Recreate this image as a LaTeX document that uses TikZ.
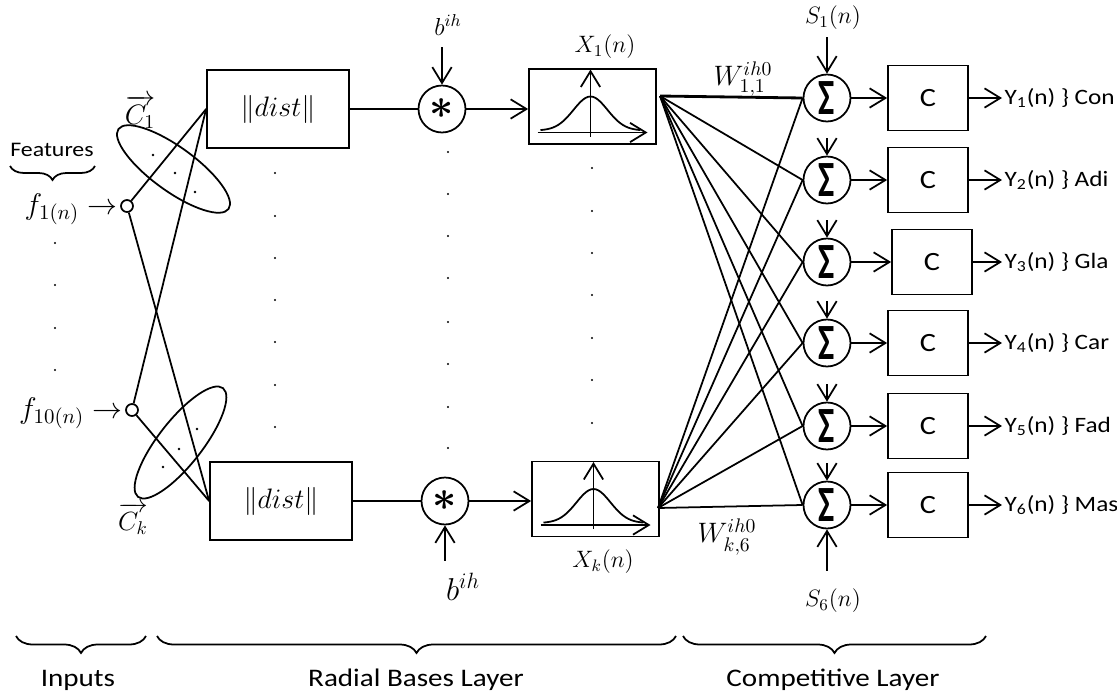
\RequirePackage{fix-cm}
\documentclass[tikz,border=0pt]{standalone}
\usepackage{amsmath}
\usepackage[no-math]{fontspec}
\setmainfont{Carlito}[FakeStretch=1.15]
\usepackage{graphicx}
\usetikzlibrary{arrows.meta,positioning,decorations.pathreplacing}

\newcommand{\fsz}[1]{\fontsize{#1}{#1}\selectfont}
\newcommand{\sumsign}{{\fsz{17}\bfseries\scalebox{1}[1.7]{Σ}}}
\newcommand{\prodsign}{{\fsz{24}$\boldsymbol{\ast}$}}

\begin{document}
\begin{tikzpicture}[x=0.02cm,y=-0.02cm,line width=1pt,
  >={Straight Barb[length=9pt,width=11pt]},
  innode/.style={draw,circle,minimum size=0.24cm,inner sep=0pt},
  distbox/.style={draw,minimum width=2.84cm,minimum height=1.55cm,font=\fsz{16}},
  prodnode/.style={draw,circle,minimum size=0.94cm,inner sep=0pt},
  rbfbox/.style={draw,minimum width=2.54cm,minimum height=1.5cm},
  sumnode/.style={draw,circle,minimum size=0.94cm,inner sep=0pt},
  compbox/.style={draw,minimum width=1.6cm,minimum height=1.3cm,font=\fsz{15}},
  outlabel/.style={anchor=west,inner sep=1pt,font=\fsz{12.5}},
  layerbrace/.style={decorate,decoration={brace,mirror,amplitude=0.34cm}},
  layertext/.style={font=\fsz{14.4}}
]
\useasboundingbox (0,0) rectangle (1117,697);

% inputs
\node[font=\fsz{11.8}] (feat) at (52,150) {Features};
\draw[decorate,decoration={brace,mirror,amplitude=0.28cm}] (10,166) -- (95,166);
\node[innode] (in1) at (127,206) {};
\node[innode] (in10) at (132,410) {};
\node[anchor=base east,inner sep=1pt,font=\fsz{17}] (f1) at (120,214) {$f_{1(n)}\rightarrow$};
\node[anchor=base east,inner sep=1pt,font=\fsz{17}] (f10) at (125,418) {$f_{10(n)}\rightarrow$};
\foreach \y in {243,285,328,370}
  \fill (55,\y) circle (1.2);

% centres
\draw[rotate around={-36:(173.5,169)}] (173.5,169) ellipse [x radius=68, y radius=22];
\draw[rotate around={52:(180.5,442.5)}] (180.5,442.5) ellipse [x radius=69, y radius=22];
\foreach \p in {(153,155),(175,173),(195,192),(163,467),(179,449),(197,429)}
  \fill \p circle (1.3);
\node[font=\fsz{16}] (c1) at (140,112) {$\overrightarrow{C_1}$};
\node[font=\fsz{15}] (ck) at (133,519) {$\overrightarrow{C_k}$};

% radial basis layer
\node[distbox] (dist1) at (278,109) {$\|dist\|$};
\node[distbox] (dist2) at (281,501) {$\|dist\|$};
\node[prodnode] (prod1) at (442,109) {\prodsign};
\node[prodnode] (prod2) at (445,501) {\prodsign};
\node[rbfbox] (rbf1) at (592.5,106.5) {};
\node[rbfbox] (rbf2) at (595.5,499) {};

\draw (in1) -- (dist1.west);
\draw (in1) -- (dist2.west);
\draw (in10) -- (dist1.west);
\draw (in10) -- (dist2.west);

\draw[line width=1.6pt] (dist1) -- (prod1);
\draw (dist2) -- (prod2);
\draw[->] (prod1) -- (prod1 -| rbf1.west);
\draw[->] (prod2) -- (prod2 -| rbf2.west);

\node[font=\fsz{14}] (b1) at (448,25) {$b^{ih}$};
\node[font=\fsz{18}] (b2) at (463,587) {$b^{ih}$};
\draw[<-] (prod1.north) -- ++(0,-38);
\draw[<-] (prod2.south) -- ++(0,36);

% gaussian inside the rbf boxes
\foreach \g in {rbf1,rbf2}{
  \begin{scope}[shift={(\g.center)}]
    \draw[->] (-2,30) -- (-2,-37);
    \draw[->] (-55,26) -- (55,26);
    \draw[domain=-52:48,smooth,samples=41]
      plot (\x,{24-34*exp(((\x+2)*(\x+2))/(-578))});
  \end{scope}
}
\node[font=\fsz{13.5}] (x1) at (605,47) {$X_1(n)$};
\node[font=\fsz{13.5}] (xk) at (603,562) {$X_k(n)$};

\foreach \y in {173,216,258,300,342,385,427}
  \fill (275,\y) circle (1.2);
\foreach \y in {152,194,236,278,322,364,407,448}
  \fill (448,\y) circle (1.2);
\foreach \y in {168,211,253,295,338,380,423}
  \fill (592,\y) circle (1.2);

% competitive layer
\foreach \i/\y in {1/98,2/180,3/262,4/343,5/426,6/505}
  \node[sumnode] (sum\i) at (827,\y) {\sumsign};

\coordinate (w1) at (660,96);
\coordinate (wk) at (658,508);
\draw[line width=1.6pt] (w1) -- (sum1.west);
\foreach \i in {2,...,6}
  \draw (w1) -- (sum\i.west);
\foreach \i in {1,...,6}
  \draw (wk) -- (sum\i.west);
\node[font=\fsz{16}] (w11) at (743,79) {$W^{ih0}_{1,1}$};
\node[font=\fsz{16}] (wk6) at (727,537) {$W^{ih0}_{k,6}$};

\node[font=\fsz{13.5}] (s1) at (833,18) {$S_1(n)$};
\node[font=\fsz{13.5}] (s6) at (833,601) {$S_6(n)$};
\draw[<-] (sum1.north) -- ++(0,-37);
\draw[<-] (sum6.south) -- ++(0,42);
\foreach \i in {2,...,6}
  \draw[<-] (sum\i.north) -- ++(0,-18);

\foreach \i/\y/\x/\cls in {1/98/928/Con,2/180/928/Adi,3/262/932/Gla,
                           4/343/928/Car,5/426/928/Fad,6/505/928/Mas}{
  \node[compbox] (cls\i) at (\x,\y) {C};
  \node[outlabel] (out\i) at (1002,\y) {Y\textsubscript{\i}(n) \} \cls};
  \draw[->] (sum\i) -- (cls\i);
  \draw[->] (cls\i) -- (out\i);
}

% layer braces
\draw[layerbrace] (16,636) -- (146,636);
\draw[layerbrace] (157,636) -- (676,636);
\draw[layerbrace] (683,636) -- (986,636);
\node[layertext] (inlab) at (78,680) {Inputs};
\node[layertext] (rbflab) at (416,680) {Radial Bases Layer};
\node[layertext] (complab) at (833,680) {Competitive Layer};
\end{tikzpicture}
\end{document}
